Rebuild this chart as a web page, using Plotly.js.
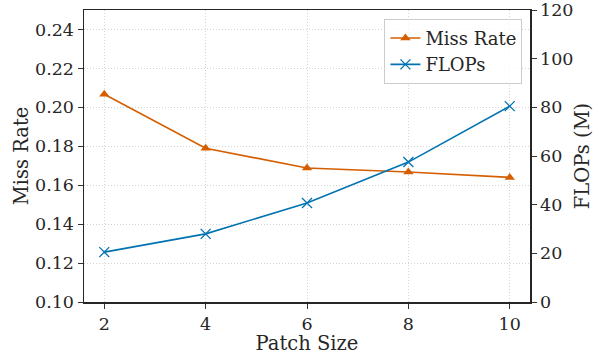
<!DOCTYPE html>
<html><head><meta charset="utf-8">
<script src="https://cdn.plot.ly/plotly-3.0.1.min.js"></script>
<style>html,body{margin:0;padding:0;background:#fff}#c{width:598px;height:355px}</style>
</head><body><div id="c"></div>
<script>
const patchSize = [2, 4, 6, 8, 10];
const missRate = [0.2067, 0.179, 0.1688, 0.1668, 0.164];
const flops = [20.5, 28.0, 40.7, 57.5, 80.5];
const xTicks = [2, 4, 6, 8, 10];
const orange = '#d55e00', blue = '#0173b2';
const tc = '#262626';
const tickFont = {family: 'DejaVu Serif', size: 17.5, color: tc};
const titleFont = {family: 'DejaVu Serif', size: 19.5, color: tc};
const traces = [
  {x: patchSize, y: missRate, name: 'Miss Rate', mode: 'lines+markers', yaxis: 'y',
   line: {color: orange, width: 1.6}, marker: {symbol: 'triangle-up', size: 9, color: orange}},
  {x: patchSize, y: flops, name: 'FLOPs', mode: 'lines+markers', yaxis: 'y2',
   line: {color: blue, width: 1.6}, marker: {symbol: 'x-thin', size: 10, color: blue, line: {color: blue, width: 1.3}}}
];
const grid = {showgrid: true, gridcolor: '#d4d4d4', griddash: '1px,2px', gridwidth: 1};
const layout = {
  width: 598, height: 355, margin: {l: 84, r: 68, t: 10, b: 53},
  paper_bgcolor: '#fff', plot_bgcolor: '#fff', font: tickFont, showlegend: true,
  xaxis: Object.assign({range: [1.6, 10.4], tickvals: xTicks, ticks: 'outside', ticklen: 5, tickcolor: '#333',
    tickfont: tickFont, showline: true, linecolor: tc, linewidth: 1.5, mirror: true, zeroline: false,
    title: {text: 'Patch Size', font: titleFont}}, grid),
  yaxis: Object.assign({range: [0.10, 0.25], tickvals: [0.10,0.12,0.14,0.16,0.18,0.20,0.22,0.24], tickformat: '.2f',
    tickfont: tickFont, ticks: 'outside', ticklen: 5, tickcolor: '#333', showline: true, linecolor: tc, linewidth: 1.5, zeroline: false,
    title: {text: 'Miss Rate', font: titleFont}}, grid),
  yaxis2: {overlaying: 'y', side: 'right', range: [0, 120], tickvals: [0,20,40,60,80,100,120],
    tickfont: tickFont, ticks: 'outside', ticklen: 5, tickcolor: '#333', showline: true, linecolor: tc, linewidth: 1.5,
    showgrid: false, zeroline: false, ticklabeloverflow: 'allow',
    title: {text: 'FLOPs (M)', font: titleFont}},
  legend: {x: 0.983, y: 0.97, xanchor: 'right', yanchor: 'top', bgcolor: 'rgba(255,255,255,0.8)',
    bordercolor: '#cccccc', borderwidth: 1, font: {family: 'DejaVu Serif', size: 18, color: tc}, tracegroupgap: 0,
    itemwidth: 30}
};
Plotly.newPlot('c', traces, layout, {staticPlot: true});
</script></body></html>
